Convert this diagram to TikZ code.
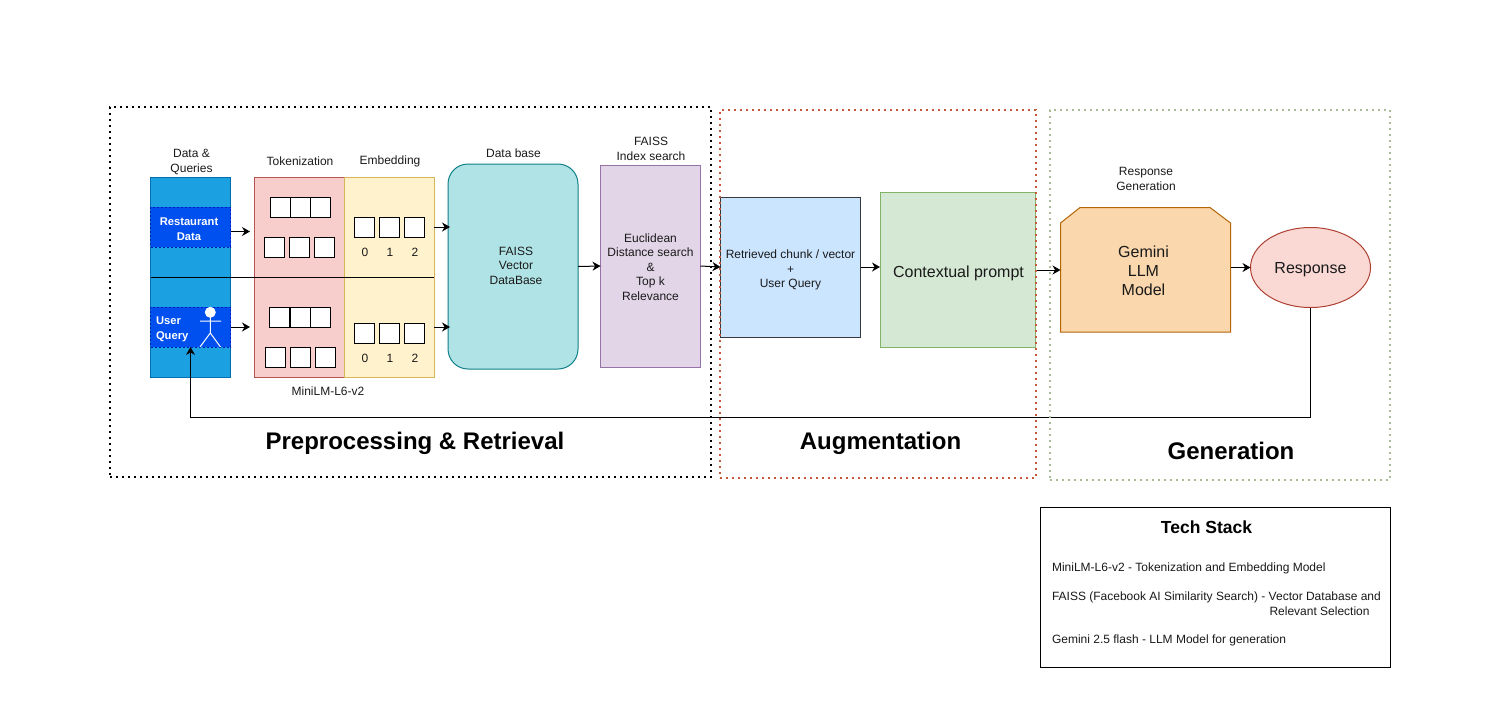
\documentclass[tikz,border=0pt]{standalone}
\usepackage{fontspec}
\setmainfont{Liberation Sans}
\usetikzlibrary{arrows.meta,shapes.geometric}
\definecolor{dblue}{HTML}{1BA1E2}
\definecolor{dblues}{HTML}{006EAF}
\definecolor{bandblue}{HTML}{0050EF}
\definecolor{bands}{HTML}{001DBC}
\definecolor{tokf}{HTML}{F8CECC}\definecolor{toks}{HTML}{B85450}
\definecolor{embf}{HTML}{FFF2CC}\definecolor{embs}{HTML}{D6B656}
\definecolor{dbf}{HTML}{B0E3E6}\definecolor{dbs}{HTML}{0E8088}
\definecolor{idxf}{HTML}{E1D5E7}\definecolor{idxs}{HTML}{9673A6}
\definecolor{retf}{HTML}{CCE5FF}\definecolor{rets}{HTML}{36393D}
\definecolor{ctxf}{HTML}{D5E8D4}\definecolor{ctxs}{HTML}{82B366}
\definecolor{gemf}{HTML}{FAD7AC}\definecolor{gems}{HTML}{B46504}
\definecolor{resf}{HTML}{FAD9D5}\definecolor{ress}{HTML}{AE4132}
\definecolor{txt}{HTML}{1A1A1A}
\definecolor{fred}{HTML}{C4583A}
\definecolor{fgreen}{HTML}{A9BC96}
\tikzset{
  base/.style={outer sep=0pt,inner sep=0pt,align=center,text=txt,font=\fontsize{12}{15}\selectfont},
  rbox/.style={base,draw,rectangle},
  cell/.style={rbox,draw=black,fill=white,line width=1pt,minimum width=20pt,minimum height=20pt},
  band/.style={rbox,draw=bands,dash pattern=on 2pt off 2pt,line width=0.5pt,fill=bandblue,minimum width=80pt,minimum height=40pt},
  bandtext/.style={base,text=white,font=\fontsize{11.2}{15}\selectfont\bfseries},
  lbl/.style={base},
  num/.style={base},
  tight/.style={base,font=\fontsize{12}{14.5}\selectfont},
  big/.style={base,font=\fontsize{16}{19}\selectfont},
  arr/.style={draw=black,line width=1pt,-{Stealth[length=8pt,width=9pt]}},
  frame/.style={rectangle,draw,line width=2pt,dash pattern=on 2pt off 4pt,inner sep=0pt,outer sep=0pt},
  section/.style={base,text=black,font=\fontsize{24}{28}\selectfont\bfseries},
  stack/.style={base,anchor=base west,align=left},
}
\begin{document}
\begin{tikzpicture}[x=1pt,y=-1pt,line width=1pt]
\useasboundingbox (0,0) rectangle (1485,710);

% column of sources
\node[rbox,draw=dblues,fill=dblue,minimum width=80pt,minimum height=200pt] (data) at (190.5,277) {};
\node[band] (rest) at (190.5,227) {};
\node[band] (uq) at (190.5,327) {};
\node[bandtext] (restt) at (189,229) {Restaurant\\Data};
\node[bandtext,align=left,anchor=west] (uqt) at (156,329) {User\\Query};

% tokenization / embedding
\node[rbox,draw=toks,fill=tokf,minimum width=90pt,minimum height=200pt] (tok) at (299,277) {};
\node[rbox,draw=embs,fill=embf,minimum width=90pt,minimum height=200pt] (emb) at (389,277) {};
\coordinate (midl) at (150.5,277);
\coordinate (midr) at (434,277);
\draw[black] (midl) -- (midr);

% token cells
\node[cell] (t1) at (280,207) {};
\node[cell] (t2) at (300,207) {};
\node[cell] (t3) at (320,207) {};
\node[cell] (t4) at (274.5,247) {};
\node[cell] (t5) at (299.5,247) {};
\node[cell] (t6) at (324.5,247) {};
\node[cell] (t7) at (279,317) {};
\node[cell] (t8) at (300,317) {};
\node[cell] (t9) at (320,317) {};
\node[cell] (t10) at (275.5,357) {};
\node[cell] (t11) at (300.5,357) {};
\node[cell] (t12) at (325.5,357) {};

% embedding cells
\node[cell] (e1) at (364.5,227) {};
\node[cell] (e2) at (389.5,227) {};
\node[cell] (e3) at (414.5,227) {};
\node[cell] (e4) at (364.5,333) {};
\node[cell] (e5) at (389.5,333) {};
\node[cell] (e6) at (414.5,333) {};
\node[num] (n1) at (365,252) {0};
\node[num] (n2) at (390,252) {1};
\node[num] (n3) at (415,252) {2};
\node[num] (n4) at (365,358) {0};
\node[num] (n5) at (390,358) {1};
\node[num] (n6) at (415,358) {2};

% actor
\fill[white] (210.3,312.3) circle (5.5pt);
\draw[white,line width=1pt] (210.3,317) -- (210.3,333) (200,321) -- (221,321) (200,347) -- (210.3,333) -- (220.5,347);

% main boxes
\node[rbox,draw=dbs,fill=dbf,rounded corners=20pt,minimum width=130pt,minimum height=205pt] (db) at (513,266.5) {};
\node[tight] (dbt) at (516,265.5) {FAISS\\Vector\\DataBase};
\node[rbox,draw=idxs,fill=idxf,minimum width=100pt,minimum height=202pt] (idx) at (650.5,266) {};
\node[tight] (idxt) at (650.5,267) {Euclidean\\Distance search\\\&\\Top k\\Relevance};
\node[rbox,draw=rets,fill=retf,minimum width=140pt,minimum height=140pt] (ret) at (790.5,267) {};
\node[tight] (rett) at (790.5,270) {Retrieved chunk / vector\\+\\User Query};
\node[rbox,draw=ctxs,fill=ctxf,minimum width=155pt,minimum height=155pt] (ctx) at (957.5,270) {};
\node[big] (ctxt) at (958.5,273) {Contextual prompt};
\draw[draw=gems,fill=gemf] (1060.5,223) -- (1080,207.5) -- (1210,207.5) -- (1230.5,223) -- (1230.5,332) -- (1060.5,332) -- cycle;
\node[big,rectangle,minimum width=170pt,minimum height=125pt] (gem) at (1145.5,269.7) {};
\node[big] (gemt) at (1143.5,271) {Gemini\\LLM\\ Model};
\node[base,ellipse,draw=ress,fill=resf,minimum width=120pt,minimum height=80pt] (resp) at (1310.5,267.5) {};
\node[big] (respt) at (1310.5,269.5) {Response};

% captions
\node[lbl] (c1) at (191.5,162) {Data \&\\Queries};
\node[lbl] (c2) at (300,161.5) {Tokenization};
\node[lbl] (c3) at (390,161) {Embedding};
\node[lbl] (c4) at (513.5,153) {Data base};
\node[lbl] (c5) at (651,149) {FAISS\\Index search};
\node[lbl] (c6) at (328,391) {MiniLM-L6-v2};
\node[lbl] (c7) at (1146,179) {Response\\Generation};

% connectors
\coordinate (a1) at (250,231.5);
\coordinate (a2) at (250,327);
\coordinate (a3) at (450,227);
\coordinate (a4) at (450,327);
\coordinate (fb) at (190.5,417.5);
\draw[arr] ([yshift=-4.5pt]rest.east) -- (a1);
\draw[arr] (uq.east) -- (a2);
\draw[arr] ([yshift=50pt]emb.east) -- (a3);
\draw[arr] ([yshift=-50pt]emb.east) -- (a4);
\draw[arr] (db.east) -- (idx.west);
\draw[arr] (idx.east) -- (ret.west);
\draw[arr] (ret.east) -- (ctx.west |- ret.east);
\draw[arr] (ctx.east) -- (gem.west |- ctx.east);
\draw[arr] (gem.east |- resp.west) -- (resp.west);
\draw[arr] (resp.south) |- (fb) -- (uq.south);

% dotted frames
\node[frame,draw=fgreen,minimum width=340pt,minimum height=370pt] (f3) at (1220,295) {};
\node[frame,draw=fred,minimum width=316pt,minimum height=368pt] (f2) at (878,294) {};
\node[frame,draw=black,minimum width=601pt,minimum height=370pt] (f1) at (410.5,292) {};

% section titles
\node[section] (s1) at (415,443) {Preprocessing \& Retrieval};
\node[section] (s2) at (880.5,443) {Augmentation};
\node[section] (s3) at (1231,450.5) {Generation};

% tech stack
\node[rbox,draw=black,fill=white,minimum width=350pt,minimum height=160pt] (ts) at (1215.5,587) {};
\node[base,text=black,font=\fontsize{17.5}{20}\selectfont\bfseries] (tt) at (1206.5,527.5) {Tech Stack};
\node[stack] (l1) at (1052,571.5) {MiniLM-L6-v2 - Tokenization and Embedding Model};
\node[stack] (l2) at (1052,600.5) {FAISS (Facebook AI Similarity Search) - Vector Database and};
\node[stack] (l3) at (1269.5,615.5) {Relevant Selection};
\node[stack] (l4) at (1052,643.5) {Gemini 2.5 flash - LLM Model for generation};
\end{tikzpicture}
\end{document}
